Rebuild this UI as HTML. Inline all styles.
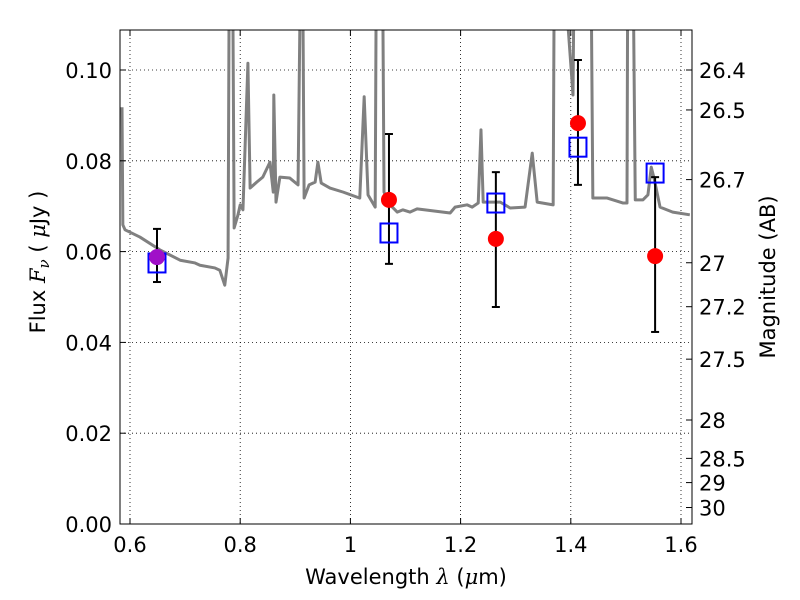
<!DOCTYPE html>
<html><head><meta charset="utf-8"><style>
body{margin:0;background:#fff}
svg{display:block;font-family:"DejaVu Sans","Liberation Sans",sans-serif}
</style></head><body>
<svg id="chart" width="800" height="600" viewBox="0 0 800 600">
<defs><clipPath id="clip"><rect x="120" y="30" width="572" height="494"/></clipPath></defs>
<g id="grid"></g>
<g id="spec" clip-path="url(#clip)"></g>
<g id="pts" clip-path="url(#clip)"></g>
<rect x="120" y="30" width="572" height="494" fill="none" stroke="#000" stroke-width="1"/>
<g id="axes"></g>
<text x="406" y="584" font-size="21" text-anchor="middle">Wavelength  <tspan font-style="italic" font-family="DejaVu Serif,serif">λ</tspan> (<tspan font-style="italic" font-family="DejaVu Serif,serif">μ</tspan>m)</text>
<text transform="translate(45,262) rotate(-90)" font-size="21" text-anchor="middle">Flux  <tspan font-style="italic" font-family="DejaVu Serif,serif">F<tspan font-size="15" dy="4">ν</tspan></tspan><tspan dy="-4">  (  </tspan><tspan font-style="italic" font-family="DejaVu Serif,serif">μ</tspan>Jy )</text>
<text transform="translate(775,277) rotate(-90)" font-size="21" text-anchor="middle">Magnitude (AB)</text>
</svg>
<script>
const specWave=[0.5855,0.587,0.591,0.618,0.654,0.691,0.718,0.727,0.754,0.763,0.772,0.778,0.781,0.785,0.789,0.796,0.800,0.805,0.814,0.818,0.830,0.841,0.854,0.860,0.861,0.865,0.872,0.890,0.905,0.912,0.916,0.925,0.936,0.941,0.947,0.963,0.987,1.012,1.017,1.025,1.032,1.045,1.048,1.057,1.061,1.072,1.085,1.095,1.108,1.121,1.181,1.190,1.212,1.221,1.232,1.237,1.241,1.272,1.290,1.317,1.330,1.339,1.368,1.371,1.404,1.408,1.435,1.440,1.466,1.495,1.502,1.504,1.511,1.517,1.531,1.540,1.546,1.551,1.562,1.585,1.616];
const specFlux=[0.0918,0.0659,0.0648,0.0632,0.0604,0.0581,0.0575,0.0570,0.0564,0.0559,0.0526,0.0586,0.15,0.15,0.0652,0.0681,0.0703,0.0692,0.1015,0.0740,0.0753,0.0764,0.0797,0.0731,0.0945,0.0709,0.0764,0.0762,0.0747,0.15,0.0718,0.0747,0.0753,0.0797,0.0751,0.0740,0.0731,0.0720,0.0718,0.0941,0.0725,0.0698,0.15,0.15,0.0731,0.0703,0.0687,0.0692,0.0687,0.0694,0.0685,0.0698,0.0703,0.0698,0.0707,0.0868,0.0709,0.0709,0.0696,0.0698,0.0817,0.0709,0.0703,0.15,0.0945,0.15,0.15,0.0718,0.0718,0.0707,0.0707,0.15,0.15,0.0714,0.0714,0.0725,0.0786,0.0762,0.0698,0.0687,0.0681];
const obsWave=[0.649,1.070,1.264,1.413,1.553];
const obsFlux=[0.0588,0.0714,0.0628,0.0883,0.059];
const obsErrLo=[0.0533,0.0573,0.0478,0.0747,0.0423];
const obsErrHi=[0.065,0.0859,0.0775,0.1022,0.0764];
const modelFlux=[0.0575,0.0641,0.0707,0.083,0.0773];
const xTicks=[0.6,0.8,1,1.2,1.4,1.6];
const yTicks=[0,0.02,0.04,0.06,0.08,0.10];
const magTicks=[26.4,26.5,26.7,27,27.2,27.5,28,28.5,29,30];

const NS='http://www.w3.org/2000/svg';
const X=v=>130+(v-0.6)*551;
const Y=v=>524-v*4540;
function mk(tag,attrs,parent){const e=document.createElementNS(NS,tag);for(const k in attrs)e.setAttribute(k,attrs[k]);parent.appendChild(e);return e;}
const grid=document.getElementById('grid'),axes=document.getElementById('axes');
xTicks.forEach(t=>{
  const x=X(t);
  const g=mk('line',{x1:x,x2:x,y1:30,y2:524,stroke:'#000','stroke-dasharray':'1,3','stroke-width':0.8},grid);
  
  
  mk('line',{x1:x,x2:x,y1:524,y2:518,stroke:'#000'},axes);
  mk('line',{x1:x,x2:x,y1:30,y2:36,stroke:'#000'},axes);
  const l=mk('text',{x:x,y:552,'font-size':21,'text-anchor':'middle'},axes);
  l.textContent=String(t);
  
  
});
yTicks.forEach(t=>{
  const y=Y(t);
  const g=mk('line',{x1:120,x2:692,y1:y,y2:y,stroke:'#000','stroke-dasharray':'1,3','stroke-width':0.8},grid);
  
  
  mk('line',{x1:120,x2:126,y1:y,y2:y,stroke:'#000'},axes);
  const l=mk('text',{x:112,y:y+8,'font-size':21,'text-anchor':'end'},axes);
  l.textContent=t.toFixed(2);
  
  
});
magTicks.forEach(m=>{
  const y=Y(Math.pow(10,(23.9-m)/2.5));
  mk('line',{x1:686,x2:692,y1:y,y2:y,stroke:'#000'},axes);
  const l=mk('text',{x:699,y:y+8,'font-size':21},axes);
  l.textContent=String(m);
  
  
});
const spec=document.getElementById('spec');
const p=mk('polyline',{points:specWave.map((w,i)=>X(w)+','+Y(specFlux[i])).join(' '),fill:'none',stroke:'#808080','stroke-width':3,'stroke-linejoin':'round'},spec);


const pts=document.getElementById('pts');
obsWave.forEach((w,i)=>{
  const x=X(w);
  const e=mk('g',{},pts);
  
  
  mk('line',{x1:x,x2:x,y1:Y(obsErrLo[i]),y2:Y(obsErrHi[i]),stroke:'#000','stroke-width':2},e);
  mk('line',{x1:x-4,x2:x+4,y1:Y(obsErrLo[i]),y2:Y(obsErrLo[i]),stroke:'#000','stroke-width':2},e);
  mk('line',{x1:x-4,x2:x+4,y1:Y(obsErrHi[i]),y2:Y(obsErrHi[i]),stroke:'#000','stroke-width':2},e);
});
obsWave.forEach((w,i)=>{
  const s=mk('rect',{x:X(w)-8.5,y:Y(modelFlux[i])-9.5,width:17,height:19,fill:'none',stroke:'#0000ff','stroke-width':2},pts);
  
  
});
obsWave.forEach((w,i)=>{
  const c=mk('circle',{cx:X(w),cy:Y(obsFlux[i]),r:8,fill:i===0?'#a010c8':'#ff0000'},pts);
  
  
});
</script>
</body></html>
